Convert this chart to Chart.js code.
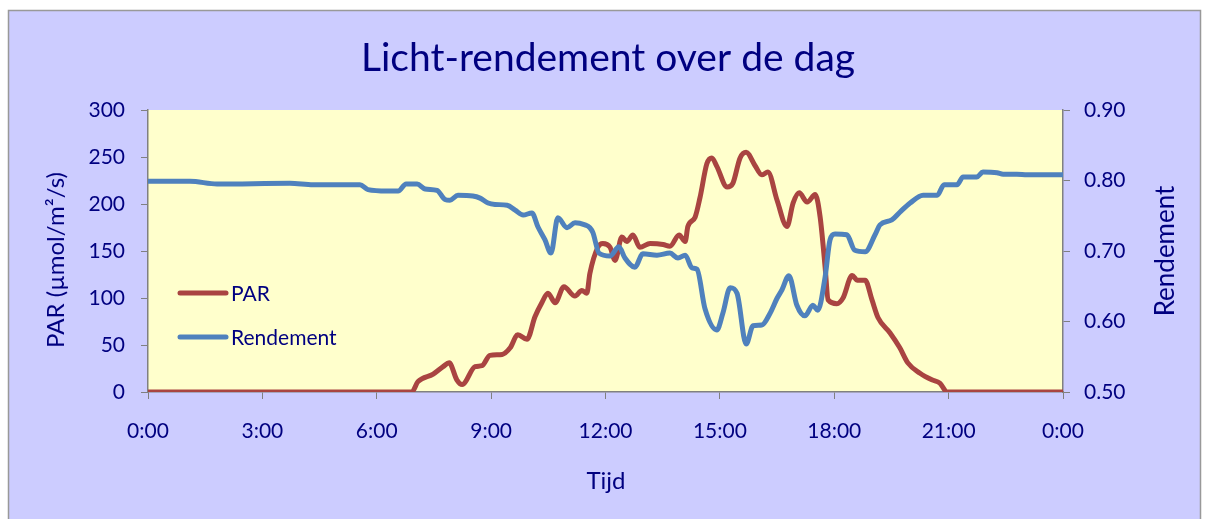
<!DOCTYPE html>
<html lang="nl">
<head>
  <meta charset="UTF-8" />
  <title>Licht-rendement over de dag</title>
  <style>
    * { margin: 0; padding: 0; box-sizing: border-box; }
    body { background: #fff; width: 1207px; height: 519px; overflow: hidden; }
    #wrap { position: absolute; left: 0; top: 0; width: 1207px; height: 519px; }
  </style>
</head>
<body>
  <div id="wrap"><canvas id="chartLicht" width="1207" height="519"></canvas></div>

  <script src="https://cdn.jsdelivr.net/npm/chart.js"></script>
  <script>
    // PAR (umol/m2/s), tijd in uren
    const parTijd = [0, 6.92, 7.08, 7.48, 7.74, 7.90, 8.10, 8.24, 8.58, 8.76, 8.97, 9.29, 9.50, 9.70, 9.94,
      10.15, 10.33, 10.49, 10.68, 10.91, 11.20, 11.38, 11.51, 11.59, 11.80, 11.93, 12.12, 12.25, 12.43,
      12.56, 12.72, 12.90, 13.17, 13.51, 13.69, 13.93, 14.09, 14.16, 14.35, 14.48, 14.66, 14.79, 14.92,
      15.19, 15.34, 15.53, 15.69, 15.92, 16.10, 16.26, 16.50, 16.76, 16.92, 17.08, 17.29, 17.50, 17.63,
      17.76, 17.84, 18.07, 18.23, 18.47, 18.60, 18.81, 18.99, 19.15, 19.46, 19.72, 19.93, 20.25, 20.56,
      20.77, 20.96, 24];
    const parWaarde = [0, 0, 11, 19, 27, 31, 13, 8, 27, 28, 39, 40, 47, 61, 56,
      80, 95, 105, 95, 112, 102, 108, 105, 126, 154, 158, 154, 140, 165,
      160, 167, 154, 158, 157, 155, 167, 160, 176, 186, 207, 243, 249, 240,
      218, 222, 249, 255, 241, 231, 234, 204, 176, 201, 212, 202, 210, 186,
      133, 98, 94, 100, 124, 119, 119, 98, 79, 63, 47, 31, 20, 13,
      9.5, 0, 0];

    // Rendement
    const rendTijd = [0, 1.10, 1.81, 3.72, 4.33, 5.56, 5.77, 6.27, 6.56, 6.77, 7.06, 7.27, 7.58, 7.79, 7.92,
      8.13, 8.52, 8.71, 8.92, 9.10, 9.42, 9.63, 9.84, 10.07, 10.23, 10.41, 10.57, 10.75, 10.99, 11.20,
      11.46, 11.59, 11.67, 11.83, 12.12, 12.35, 12.51, 12.77, 12.98, 13.35, 13.69, 13.90, 14.09, 14.27,
      14.40, 14.61, 14.92, 15.08, 15.27, 15.45, 15.69, 15.87, 16.10, 16.31, 16.50, 16.63, 16.81, 17.02,
      17.23, 17.44, 17.57, 17.76, 17.89, 18.02, 18.33, 18.54, 18.81, 19.07, 19.20, 19.51, 19.72, 19.99,
      20.33, 20.70, 20.88, 21.22, 21.38, 21.74, 21.90, 22.27, 22.43, 22.79, 23.06, 24];
    const rendWaarde = [0.799, 0.799, 0.795, 0.796, 0.794, 0.794, 0.787, 0.785, 0.785, 0.795, 0.795, 0.788, 0.786, 0.773, 0.772,
      0.779, 0.778, 0.775, 0.768, 0.766, 0.765, 0.758, 0.751, 0.754, 0.734, 0.716, 0.697, 0.747, 0.733, 0.740,
      0.737, 0.733, 0.726, 0.697, 0.693, 0.706, 0.690, 0.677, 0.696, 0.694, 0.697, 0.690, 0.694, 0.676,
      0.674, 0.618, 0.588, 0.612, 0.648, 0.640, 0.568, 0.594, 0.595, 0.611, 0.633, 0.645, 0.665, 0.623,
      0.608, 0.623, 0.616, 0.663, 0.716, 0.724, 0.723, 0.701, 0.699, 0.723, 0.737, 0.744, 0.755, 0.768,
      0.779, 0.779, 0.794, 0.794, 0.805, 0.805, 0.812, 0.811, 0.809, 0.809, 0.808, 0.808];

    const parTicks = [0, 50, 100, 150, 200, 250, 300];
    const rendTicks = [0.5, 0.6, 0.7, 0.8, 0.9];
    const tijdTicks = ['0:00', '3:00', '6:00', '9:00', '12:00', '15:00', '18:00', '21:00', '0:00'];

    const NAVY = '#000080';
    const ROOD = '#A94441';
    const BLAUW = '#4F81BD';
    const FONT = 'Lato, "DejaVu Sans", sans-serif';

    const achtergrond = {
      id: 'achtergrond',
      beforeDraw(chart) {
        const { ctx, chartArea: a } = chart;
        ctx.save();
        ctx.fillStyle = '#ffffff';
        ctx.fillRect(0, 0, chart.width, chart.height);
        ctx.fillStyle = '#CCCCFF';
        ctx.fillRect(8, 10, 1193, 520);
        ctx.strokeStyle = '#999999';
        ctx.lineWidth = 1.5;
        ctx.strokeRect(8.5, 10.5, 1192, 520);
        ctx.fillStyle = '#FFFFCC';
        ctx.fillRect(a.left, a.top, a.right - a.left, a.bottom - a.top);
        ctx.restore();
      },
      afterDraw(chart) {
        const ctx = chart.ctx;
        ctx.save();
        ctx.fillStyle = NAVY;
        ctx.textAlign = 'center';
        ctx.textBaseline = 'middle';
        ctx.font = '39px ' + FONT;
        ctx.fillText('Licht-rendement over de dag', 608, 58);
        ctx.font = '24px ' + FONT;
        ctx.fillText('Tijd', 606, 481);

        ctx.font = '24px ' + FONT;
        ctx.save();
        ctx.translate(56, 260);
        ctx.rotate(-Math.PI / 2);
        ctx.fillText('PAR (\u00b5mol/m\u00b2/s)', 0, 0);
        ctx.restore();

        ctx.font = '26px ' + FONT;
        ctx.save();
        ctx.translate(1166, 251);
        ctx.rotate(-Math.PI / 2);
        ctx.fillText('Rendement', 0, 0);
        ctx.restore();

        // legenda
        const items = [['PAR', ROOD, 293], ['Rendement', BLAUW, 337]];
        ctx.lineCap = 'round';
        ctx.lineWidth = 5;
        ctx.textAlign = 'left';
        ctx.font = '21px ' + FONT;
        items.forEach(([naam, kleur, y]) => {
          ctx.strokeStyle = kleur;
          ctx.beginPath();
          ctx.moveTo(180, y);
          ctx.lineTo(226, y);
          ctx.stroke();
          ctx.fillStyle = NAVY;
          ctx.fillText(naam, 231, y + 1);
        });
        ctx.restore();
      }
    };

    const grid = { drawOnChartArea: false, drawTicks: true, tickLength: 7, color: '#808080', lineWidth: 1 };
    const border = { display: true, color: '#808080', width: 1.5 };

    new Chart(document.getElementById('chartLicht'), {
      type: 'line',
      data: {
        datasets: [{
          label: 'PAR',
          data: parTijd.map((t, i) => ({ x: t, y: parWaarde[i] })),
          borderColor: ROOD,
          borderWidth: 5,
          pointRadius: 0,
          cubicInterpolationMode: 'monotone',
          yAxisID: 'y',
          order: 2
        }, {
          label: 'Rendement',
          data: rendTijd.map((t, i) => ({ x: t, y: rendWaarde[i] })),
          borderColor: BLAUW,
          borderWidth: 5,
          pointRadius: 0,
          cubicInterpolationMode: 'monotone',
          yAxisID: 'y2',
          order: 1
        }]
      },
      options: {
        responsive: false,
        animation: false,
        devicePixelRatio: 1,
        layout: { padding: { top: 110, left: 0, right: 0, bottom: 0 } },
        plugins: { legend: { display: false }, title: { display: false }, tooltip: { enabled: false } },
        scales: {
          x: {
            type: 'linear',
            min: 0,
            max: 24,
            afterFit(s) { s.height = 127; },
            afterBuildTicks(s) { s.ticks = tijdTicks.map((_, i) => ({ value: i * 3 })); },
            ticks: {
              color: NAVY,
              font: { family: FONT, size: 21 },
              padding: 20,
              maxRotation: 0,
              autoSkip: false,
              callback: (v) => tijdTicks[Math.round(v / 3)]
            },
            grid, border
          },
          y: {
            position: 'left',
            min: 0,
            max: 300,
            afterFit(s) { s.width = 148; },
            afterBuildTicks(s) { s.ticks = parTicks.map(v => ({ value: v })); },
            ticks: { color: NAVY, font: { family: FONT, size: 21 }, padding: 16 },
            grid, border
          },
          y2: {
            position: 'right',
            min: 0.5,
            max: 0.9,
            afterFit(s) { s.width = 144; },
            afterBuildTicks(s) { s.ticks = rendTicks.map(v => ({ value: v })); },
            ticks: { color: NAVY, font: { family: FONT, size: 21 }, padding: 14, callback: (v) => v.toFixed(2) },
            grid, border
          }
        }
      },
      plugins: [achtergrond]
    });
  </script>
</body>
</html>
